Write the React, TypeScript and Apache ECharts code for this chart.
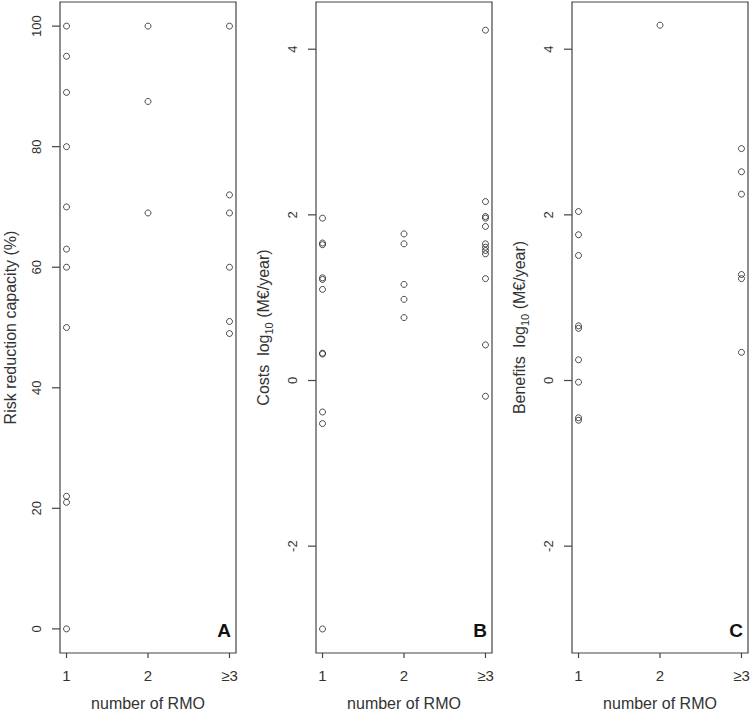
import React, { useEffect, useRef } from "react";
import * as echarts from "echarts";

// x positions: 1, 2, >=3 (number of RMO)
const xTickValues = [1, 2, 3];
const xTickLabels = ["1", "2", "≥3"];
const xMin = 0.92;
const xMax = 3.08;

// Panel A: risk reduction capacity (%)
const a1 = [100, 95, 89, 80, 70, 63, 60, 50, 22, 21, 0];
const a2 = [100, 87.5, 69];
const a3 = [100, 72, 69, 60, 51, 49];
const aTicks = [0, 20, 40, 60, 80, 100];
const aMin = -4;
const aMax = 104;

// Panel B: costs log10 (M€/year)
const b1 = [1.96, 1.66, 1.64, 1.24, 1.22, 1.1, 0.33, 0.32, -0.38, -0.52, -3.0];
const b2 = [1.77, 1.65, 1.16, 0.98, 0.76];
const b3 = [4.23, 2.16, 1.98, 1.96, 1.86, 1.65, 1.61, 1.57, 1.53, 1.23, 0.43, -0.19];

// Panel C: benefits log10 (M€/year)
const c1 = [2.04, 1.76, 1.51, 0.66, 0.63, 0.25, -0.02, -0.45, -0.48];
const c2 = [4.29];
const c3 = [2.8, 2.52, 2.25, 1.28, 1.23, 0.34];
const logTicks = [-2, 0, 2, 4];
const logMin = -3.29;
const logMax = 4.57;

const panelLetters = ["A", "B", "C"];

const FONT = "'Liberation Sans', Arial, Helvetica, sans-serif";
const TXT = "#333";
const LINE = "#444";

function toPoints(groups: number[][]) {
  const pts: number[][] = [];
  groups.forEach((g, i) => g.forEach((v) => pts.push([xTickValues[i], v])));
  return pts;
}

export default function App() {
  const ref = useRef<HTMLDivElement>(null);
  useEffect(() => {
    if (!ref.current) return;
    const chart = echarts.init(ref.current, undefined, { renderer: "svg" });
    const lefts = [60, 316, 572];
    const grid = lefts.map((l) => ({
      left: l,
      top: 2,
      width: 176,
      height: 651,
      show: true,
      borderColor: LINE,
      borderWidth: 1.2,
      backgroundColor: "transparent",
      containLabel: false,
      outerBoundsMode: "none",
    }));
    const xAxis = lefts.map((_, i) => ({
      type: "value",
      gridIndex: i,
      position: "bottom",
      min: xMin,
      max: xMax,
      axisLine: { show: false, onZero: false },
      splitLine: { show: false },
      axisTick: { show: false },
      axisLabel: {
        customValues: xTickValues,
        formatter: (v: number) => xTickLabels[xTickValues.indexOf(v)] ?? "",
        fontSize: 15,
        color: TXT,
        fontFamily: FONT,
        margin: 15,
      },
      name: "number of RMO",
      nameLocation: "middle",
      nameGap: 42,
      nameTextStyle: { fontSize: 16, color: TXT, fontFamily: FONT },
    }));
    const richName = (prefix: string) => ({
      name: `{t|${prefix}  log}{s|10}{t| (M€/year)}`,
      nameTextStyle: {
        fontFamily: FONT,
        rich: {
          t: { fontSize: 16, color: TXT, fontFamily: FONT, lineHeight: 22 },
          s: { fontSize: 11, color: TXT, fontFamily: FONT, lineHeight: 11, verticalAlign: "bottom" },
        },
      },
    });
    const yBase = (i: number, min: number, max: number, ticks: number[]) => ({
      type: "value",
      gridIndex: i,
      position: "left",
      min,
      max,
      axisLine: { show: false, onZero: false },
      splitLine: { show: false },
      axisTick: { show: false },
      axisLabel: {
        customValues: ticks,
        rotate: 90,
        fontSize: 13,
        color: TXT,
        fontFamily: FONT,
        margin: 17,
      },
      nameLocation: "middle",
      nameRotate: 90,
    });
    const yAxis = [
      {
        ...yBase(0, aMin, aMax, aTicks),
        name: "Risk reduction capacity (%)",
        nameGap: 42,
        nameTextStyle: { fontSize: 16, color: TXT, fontFamily: FONT },
      },
      { ...yBase(1, logMin, logMax, logTicks), ...richName("Costs"), nameGap: 42 },
      { ...yBase(2, logMin, logMax, logTicks), ...richName("Benefits"), nameGap: 42 },
    ];
    const groups = [
      [a1, a2, a3],
      [b1, b2, b3],
      [c1, c2, c3],
    ];
    const yTicksPerPanel = [aTicks, logTicks, logTicks];
    const yMinPerPanel = [aMin, logMin, logMin];

    const scatter = groups.map((g, i) => ({
      type: "scatter",
      xAxisIndex: i,
      yAxisIndex: i,
      symbol: "circle",
      symbolSize: 6,
      itemStyle: { color: "transparent", borderColor: "#222", borderWidth: 1 },
      data: toPoints(g),
      z: 3,
    }));
    // x-axis tick marks, drawn through the axes' own scales
    const tickSeries = yMinPerPanel.map((ymin, i) => ({
      type: "custom",
      xAxisIndex: i,
      yAxisIndex: i,
      silent: true,
      clip: false,
      z: 10,
      data: xTickValues.map((v) => [v, ymin]),
      renderItem: (_params: any, api: any) => {
        const pt = api.coord([api.value(0), api.value(1)]);
        return {
          type: "line",
          shape: { x1: pt[0], y1: pt[1], x2: pt[0], y2: pt[1] + 5 },
          style: { stroke: LINE, lineWidth: 1.2 },
        };
      },
    }));
    const letters = panelLetters.map((t, i) => ({
      type: "text",
      x: lefts[i] + 164,
      y: 630,
      style: {
        text: t,
        fontSize: 19,
        fontWeight: "bold",
        fontFamily: FONT,
        fill: "#111",
        align: "center",
        verticalAlign: "middle",
      },
    }));
    chart.setOption({
      animation: false,
      backgroundColor: "#fff",
      grid,
      xAxis,
      yAxis,
      series: [...scatter, ...tickSeries],
      graphic: letters,
    } as any);

    // y-axis tick marks: pixel positions come from the chart's own scales
    const yTickEls: any[] = [];
    yTicksPerPanel.forEach((ticks, i) => {
      ticks.forEach((t) => {
        const p = chart.convertToPixel({ gridIndex: i } as any, [xMin, t]) as number[];
        if (!p || isNaN(p[0]) || isNaN(p[1])) return;
        yTickEls.push({
          type: "rect",
          z: 100,
          silent: true,
          shape: { x: p[0] - 8, y: p[1] - 0.6, width: 8, height: 1.2 },
          style: { fill: LINE },
        });
      });
    });
    chart.setOption({ graphic: [...letters, ...yTickEls] } as any);
    return () => chart.dispose();
  }, []);
  return (
    <div
      ref={ref}
      style={{ position: "fixed", left: 0, top: 0, width: 750, height: 711 }}
    />
  );
}
